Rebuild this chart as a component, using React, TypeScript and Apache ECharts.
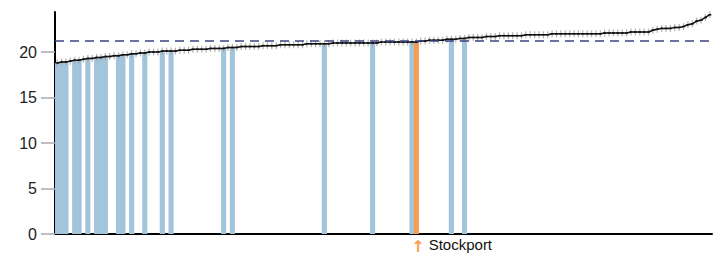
import React, { useEffect, useRef } from "react";
import * as echarts from "echarts";

const values: number[] = [
  18.8, 18.9, 18.9, 19.0, 19.1, 19.1, 19.2, 19.3, 19.3, 19.4,
  19.4, 19.5, 19.5, 19.6, 19.6, 19.7, 19.7, 19.8, 19.8, 19.9,
  19.9, 20.0, 20.0, 20.0, 20.1, 20.1, 20.1, 20.1, 20.2, 20.2,
  20.2, 20.3, 20.3, 20.3, 20.3, 20.4, 20.4, 20.4, 20.4, 20.5,
  20.5, 20.5, 20.6, 20.6, 20.6, 20.6, 20.6, 20.7, 20.7, 20.7,
  20.7, 20.8, 20.8, 20.8, 20.8, 20.8, 20.8, 20.9, 20.9, 20.9,
  20.9, 20.9, 20.9, 21.0, 21.0, 21.0, 21.0, 21.0, 21.0, 21.0,
  21.0, 21.0, 21.0, 21.0, 21.1, 21.1, 21.1, 21.1, 21.1, 21.1,
  21.1, 21.1, 21.1, 21.2, 21.2, 21.3, 21.3, 21.3, 21.3, 21.4,
  21.4, 21.4, 21.5, 21.5, 21.6, 21.6, 21.6, 21.6, 21.7, 21.7,
  21.7, 21.8, 21.8, 21.8, 21.8, 21.8, 21.8, 21.9, 21.9, 21.9,
  21.9, 21.9, 21.9, 22.0, 22.0, 22.0, 22.0, 22.0, 22.0, 22.0,
  22.0, 22.0, 22.0, 22.0, 22.0, 22.1, 22.1, 22.1, 22.1, 22.1,
  22.1, 22.2, 22.2, 22.2, 22.2, 22.2, 22.4, 22.5, 22.6, 22.6,
  22.6, 22.7, 22.7, 22.8, 23.0, 23.1, 23.4, 23.5, 23.8, 24.1,
];

const comparatorIdx: number[] = [0, 1, 2, 4, 5, 7, 9, 10, 11, 14, 15, 17, 20, 24, 26, 38, 40, 61, 72, 81, 90, 93];
const focusIdx = 82;
const focusName = "Stockport";
const averageValue = 21.2;
const yTicks: number[] = [0, 5, 10, 15, 20];
const yMax = 24.4;

const categories: string[] = values.map((_, i) => (i === focusIdx ? focusName : `Area ${i + 1}`));

const BLUE = "#a3c5dc";
const ORANGE = "#f79d52";

export default function App() {
  const ref = useRef<HTMLDivElement>(null);
  useEffect(() => {
    if (!ref.current) return;
    const chart = echarts.init(ref.current, undefined, { renderer: "svg" });
    const barData = values.map((v, i) => {
      if (i === focusIdx) return { value: v, itemStyle: { color: ORANGE } };
      if (comparatorIdx.includes(i)) return { value: v, itemStyle: { color: BLUE } };
      return "-";
    });
    chart.setOption({
      animation: false,
      grid: { left: 55, right: 11, top: 12, bottom: 21, containLabel: false },
      xAxis: {
        type: "category",
        data: categories,
        axisLine: { lineStyle: { color: "#000", width: 2 } },
        axisTick: { show: false },
        axisLabel: { show: false },
      },
      yAxis: {
        type: "value",
        min: 0,
        max: yMax,
        interval: 5,
        splitLine: { show: false },
        axisLine: { show: true, lineStyle: { color: "#000", width: 2 } },
        axisTick: { show: true, length: 14, lineStyle: { color: "#aaa", width: 1.5 }, customValues: yTicks },
        axisLabel: {
          customValues: yTicks,
          margin: 18,
          color: "#222",
          fontSize: 16,
          fontFamily: "Liberation Sans, Arial, sans-serif",
        },
      },
      series: [
        {
          type: "bar",
          data: barData,
          barWidth: "118%",
          markPoint: {
            symbol: "circle",
            symbolSize: 0,
            data: [{ coord: [focusName, 0] }],
            label: {
              show: true,
              position: [-5, 1],
              align: "left",
              verticalAlign: "top",
              formatter: "{a|↑} {b|" + focusName + "}",
              rich: {
                a: { color: ORANGE, fontSize: 16, fontFamily: "DejaVu Sans", fontWeight: "bold", width: 12, padding: [3, 0, 0, 0] },
                b: { color: "#111", fontSize: 15, fontFamily: "Liberation Sans, Arial, sans-serif", padding: [0, 0, 0, 2] },
              },
            },
          },
        },
        {
          type: "scatter",
          data: values,
          symbol: "rect",
          symbolSize: [1.2, 7],
          itemStyle: { color: "#a0a0a0" },
          z: 3,
        },
        {
          type: "line",
          data: values,
          symbol: "rect",
          symbolSize: [3, 1.5],
          itemStyle: { color: "#111" },
          lineStyle: { color: "#111", width: 1.5 },
          z: 4,
          markLine: {
            silent: true,
            symbol: "none",
            label: { show: false },
            lineStyle: { color: "#3d4382", type: [9, 6], width: 1.5 },
            data: [{ yAxis: averageValue }],
          },
        },
      ],
    });
    return () => chart.dispose();
  }, []);
  return <div ref={ref} style={{ width: 723, height: 255, position: "absolute", left: 0, top: 0 }} />;
}
